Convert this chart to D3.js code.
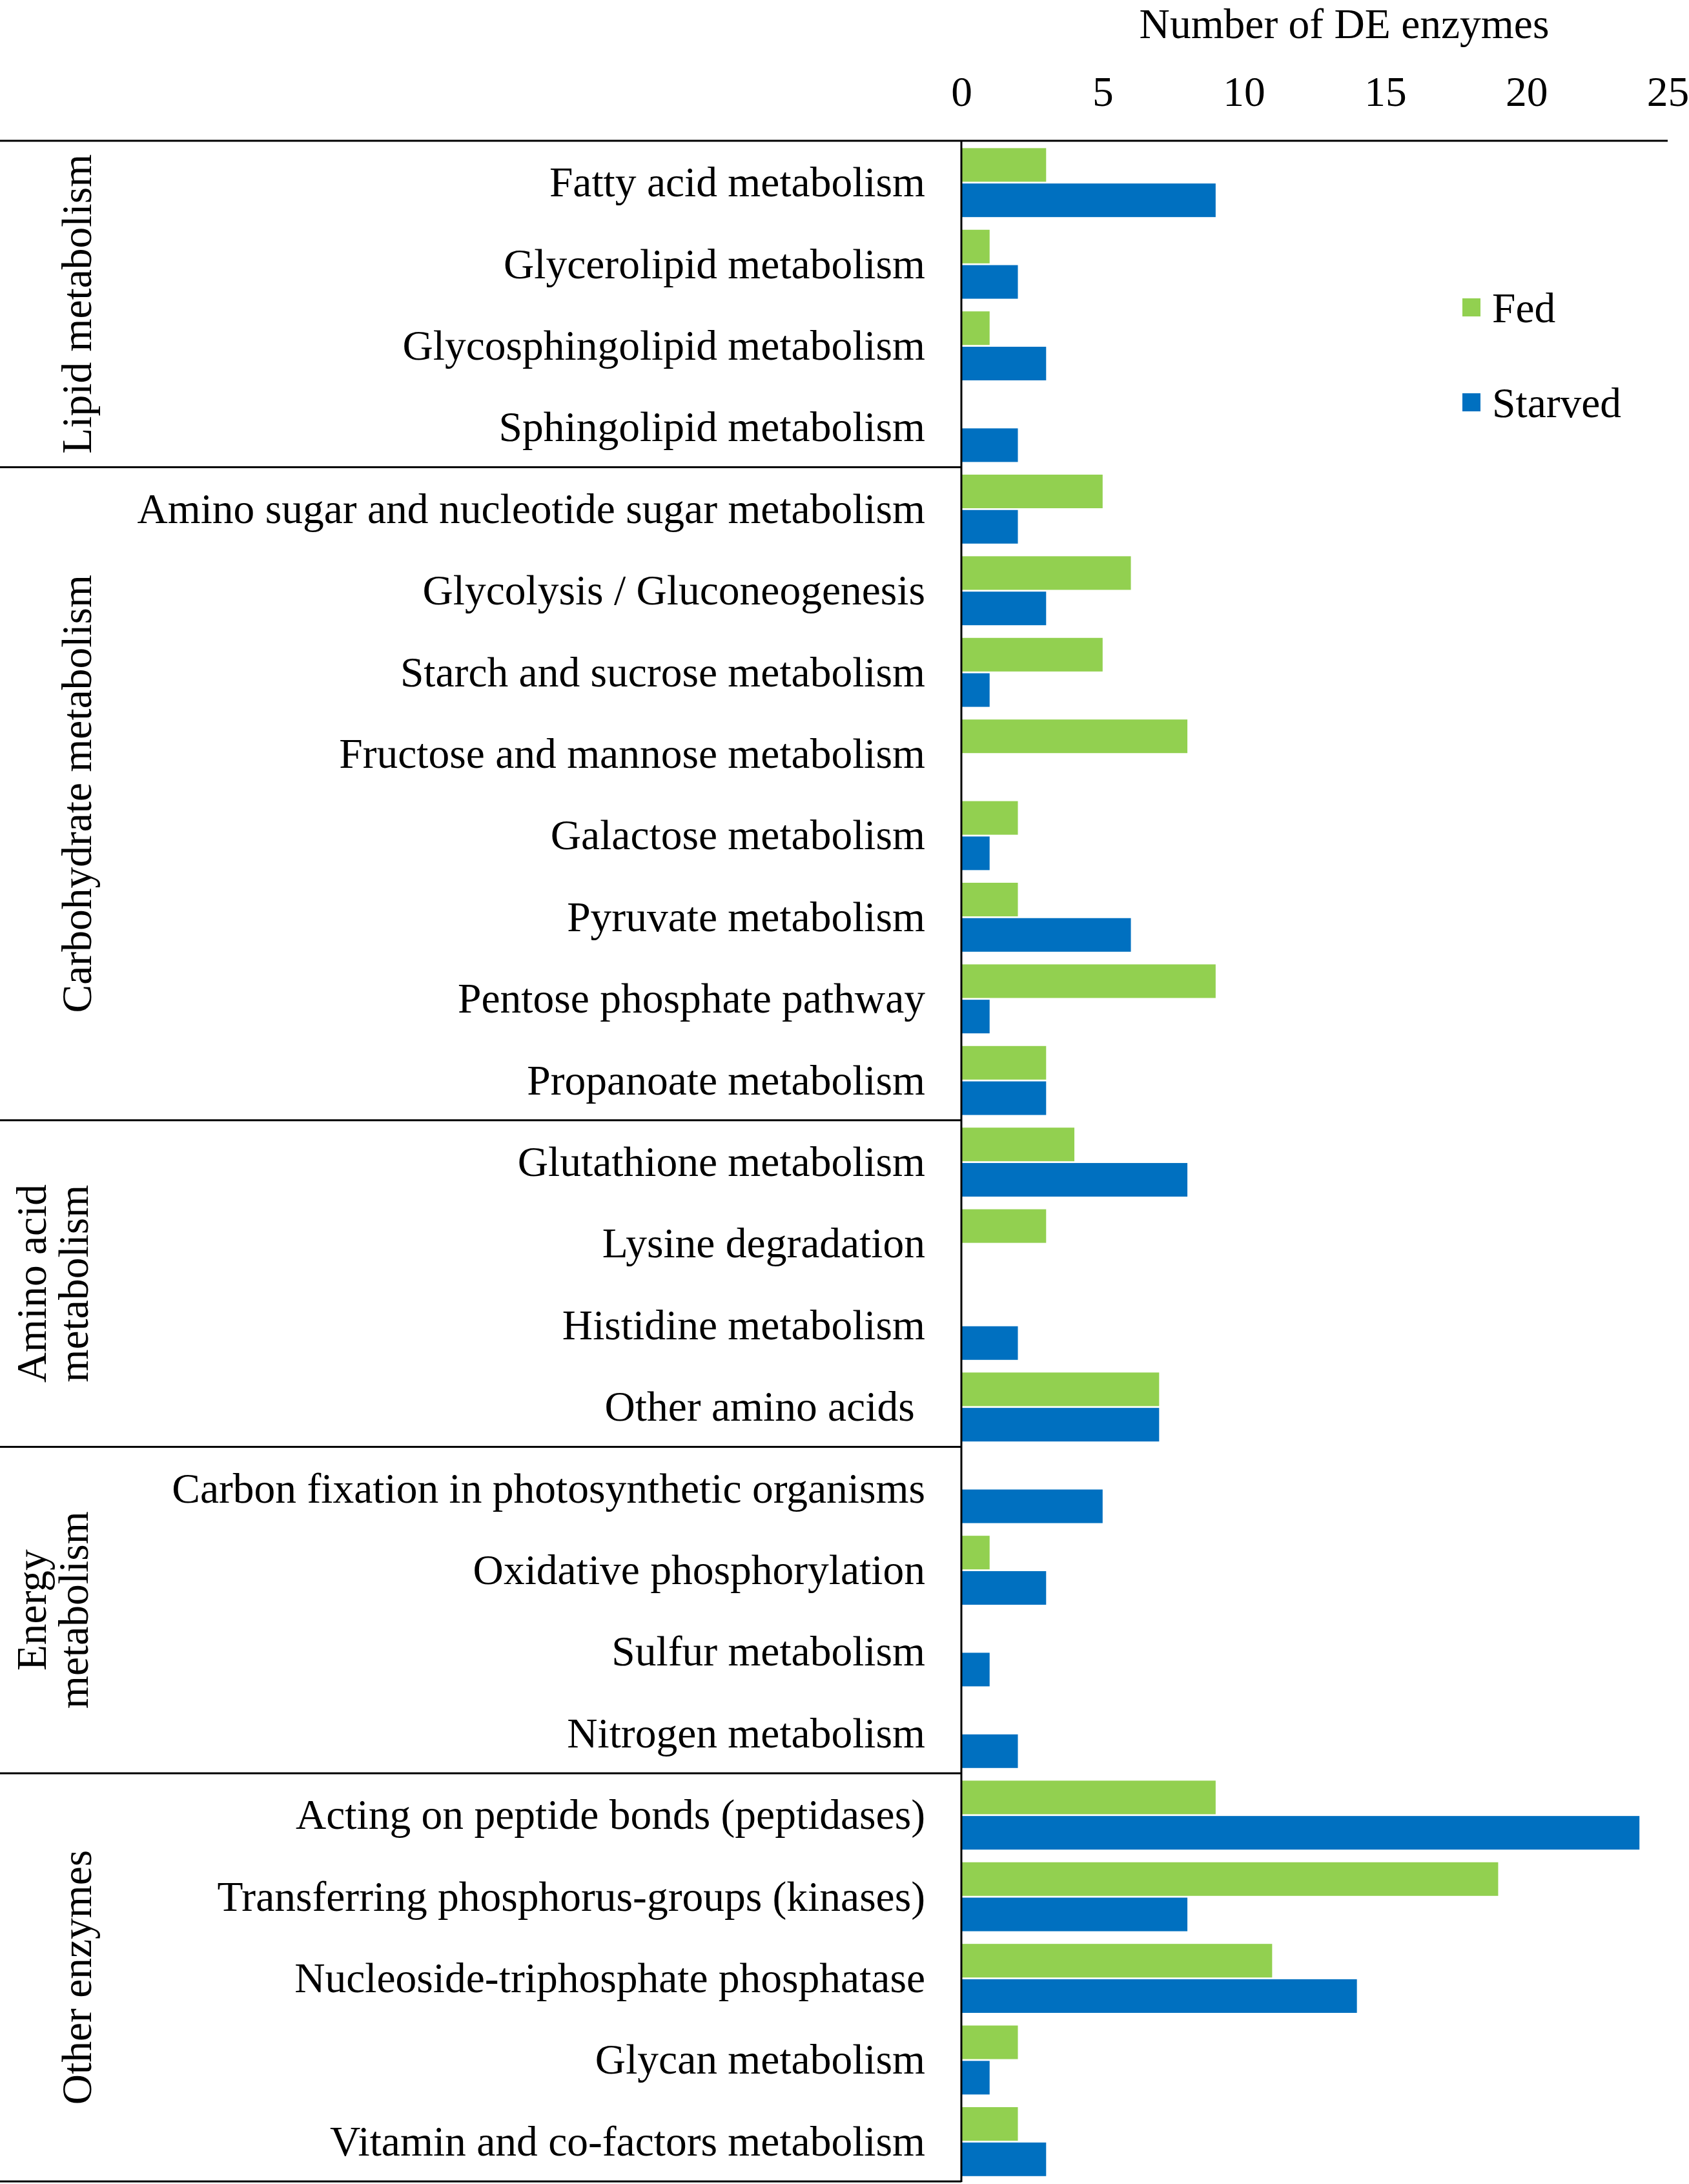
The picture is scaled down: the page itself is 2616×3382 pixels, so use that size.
<html>
<head>
    <script src="https://cdn.jsdelivr.net/npm/d3@7"></script>
    <style>
        body { margin: 0; background: #fff; }
        svg text { font-family: "Liberation Serif", "Times New Roman", serif; font-size: 65.5px; fill: #000; }
    </style>
</head>
<body>
    <script>
        // pathways, top to bottom
        var categories = [
            'Fatty acid metabolism', 'Glycerolipid metabolism', 'Glycosphingolipid metabolism', 'Sphingolipid metabolism',
            'Amino sugar and nucleotide sugar metabolism', 'Glycolysis / Gluconeogenesis', 'Starch and sucrose metabolism',
            'Fructose and mannose metabolism', 'Galactose metabolism', 'Pyruvate metabolism', 'Pentose phosphate pathway',
            'Propanoate metabolism',
            'Glutathione metabolism', 'Lysine degradation', 'Histidine metabolism', 'Other amino acids\u00a0',
            'Carbon fixation in photosynthetic organisms', 'Oxidative phosphorylation', 'Sulfur metabolism', 'Nitrogen metabolism',
            'Acting on peptide bonds (peptidases)', 'Transferring phosphorus-groups (kinases)', 'Nucleoside-triphosphate phosphatase',
            'Glycan metabolism', 'Vitamin and co-factors metabolism'
        ];
        var fed = [3, 1, 1, 0, 5, 6, 5, 8, 2, 2, 9, 3, 4, 3, 0, 7, 0, 1, 0, 0, 9, 19, 11, 2, 2];
        var starved = [9, 2, 3, 2, 2, 3, 1, 0, 1, 6, 1, 3, 8, 0, 2, 7, 5, 3, 1, 2, 24, 8, 14, 1, 3];
        var series = ['Fed', 'Starved'];

        var groupNames = [['Lipid metabolism'], ['Carbohydrate metabolism'], ['Amino acid', 'metabolism'], ['Energy', 'metabolism'], ['Other enzymes']];
        var groupSizes = [4, 8, 4, 4, 5];
        var xTicks = [0, 5, 10, 15, 20, 25];

        var W = 2616, H = 3382;
        var colors = { Fed: '#92D050', Starved: '#0070C0' };

        var svg = d3.select('body').append('svg')
            .attr('width', W)
            .attr('height', H);

        var x = d3.scaleLinear().domain([0, 25]).range([1489, 2583]);
        var y = d3.scaleBand().domain(categories).range([218, 3378]);
        var bw = y.bandwidth();
        var ys = d3.scaleBand().domain(series).range([bw * 0.09, bw * 0.935]).paddingInner(0.05);

        // bars
        var rows = svg.append('g').selectAll('g')
            .data(categories)
            .enter().append('g')
            .attr('transform', (d) => 'translate(0,' + y(d) + ')');

        rows.selectAll('rect')
            .data((d, i) => [{ s: 'Fed', v: fed[i] }, { s: 'Starved', v: starved[i] }])
            .enter().append('rect')
            .attr('x', x(0))
            .attr('y', (d) => ys(d.s))
            .attr('width', (d) => x(d.v) - x(0))
            .attr('height', ys.bandwidth())
            .attr('fill', (d) => colors[d.s]);

        // category labels
        rows.append('text')
            .attr('x', 1433)
            .attr('y', bw / 2)
            .attr('dy', '0.35em')
            .attr('text-anchor', 'end')
            .style('white-space', 'pre')
            .text((d) => d);

        // top axis
        var axis = svg.append('g')
            .attr('transform', 'translate(0,164)')
            .call(d3.axisTop(x).tickValues(xTicks).tickSize(0).tickPadding(0));
        axis.select('.domain').remove();
        axis.selectAll('text')
            .attr('dy', '0')
            .attr('font-size', null)
            .attr('font-family', null);

        svg.append('text')
            .attr('x', 2082)
            .attr('y', 59)
            .attr('text-anchor', 'middle')
            .text('Number of DE enzymes');

        // frame lines
        svg.append('line')
            .attr('x1', 0).attr('x2', x(25)).attr('y1', 218).attr('y2', 218)
            .attr('stroke', '#000').attr('stroke-width', 3);
        svg.append('line')
            .attr('x1', x(0)).attr('x2', x(0)).attr('y1', 218).attr('y2', 3379)
            .attr('stroke', '#000').attr('stroke-width', 3);

        var start = 0;
        groupSizes.forEach((n, gi) => {
            var top = y(categories[start]);
            var bottom = y(categories[start + n - 1]) + bw;
            var mid = (top + bottom) / 2;
            svg.append('line')
                .attr('x1', 0).attr('x2', x(0)).attr('y1', bottom).attr('y2', bottom)
                .attr('stroke', '#000').attr('stroke-width', 3);

            var lines = groupNames[gi];
            var cx = lines.length == 1 ? [118] : [48, 113];
            lines.forEach((t, li) => {
                svg.append('text')
                    .attr('transform', 'translate(' + cx[li] + ',' + mid + ') rotate(-90)')
                    .attr('text-anchor', 'middle')
                    .attr('dy', '0.35em')
                    .text(t);
            });
            start += n;
        });

        // legend
        var legend = svg.append('g');
        series.forEach((s, i) => {
            var cy = 476 + i * 147;
            legend.append('rect')
                .attr('x', 2265).attr('y', cy - 14)
                .attr('width', 28).attr('height', 28)
                .attr('fill', colors[s]);
            legend.append('text')
                .attr('x', 2311).attr('y', cy)
                .attr('dy', '0.35em')
                .text(s);
        });
    </script>
</body>
</html>
